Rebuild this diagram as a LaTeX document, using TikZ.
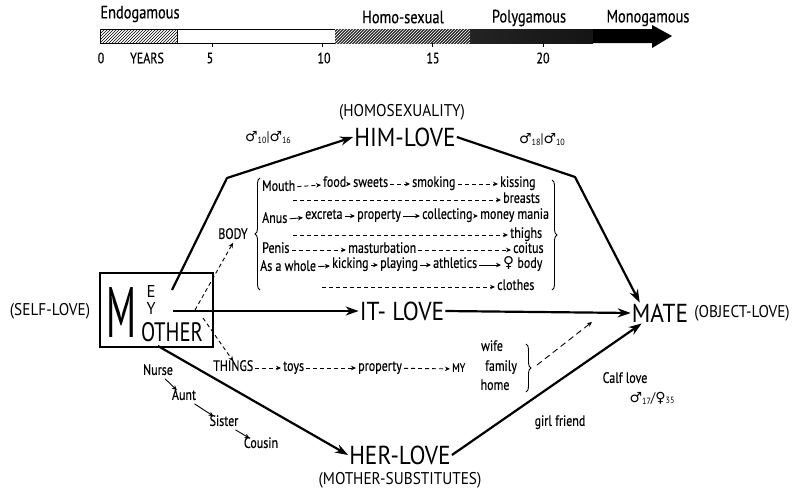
\documentclass[tikz,border=0pt]{standalone}
\usepackage{fontspec}
\usepackage{graphicx}
\setmainfont{PT Sans}[FakeStretch=0.9]
\newfontfamily\handf{PT Sans}[FakeStretch=0.8, FakeBold=0.4]
\newfontfamily\symf{DejaVu Sans}
\usetikzlibrary{arrows.meta, calc, positioning, patterns, decorations.pathreplacing}
\newcommand{\gmale}[1]{{\symf ♂}\raisebox{-2pt}{\fontsize{9}{9}\selectfont #1}}
\newcommand{\gfem}[1]{{\symf ♀}\raisebox{-1pt}{\fontsize{9}{9}\selectfont #1}}

\begin{document}
\begin{tikzpicture}[x=1pt, y=-1pt,
  big/.style={font=\fontsize{26}{26}\selectfont, inner sep=1pt},
  caps/.style={font=\fontsize{17}{17}\selectfont, inner sep=1pt},
  wd/.style={font=\handf\fontsize{15}{16}\selectfont, inner sep=2pt, text height=1.5ex, text depth=.35ex, anchor=west},
  tl/.style={font=\handf\fontsize{18}{18}\selectfont, inner sep=1pt},
  num/.style={font=\handf\fontsize{15}{15}\selectfont, inner sep=1pt},
  gl/.style={font=\fontsize{14}{14}\selectfont, inner sep=1pt},
  love/.style={line width=2.2pt, -{Stealth[length=13pt,width=9pt]}, line join=round},
  dar/.style={line width=0.9pt, dash pattern=on 4pt off 3pt, -{Stealth[length=5pt,width=4.5pt]}},
  sar/.style={line width=0.9pt, -{Stealth[length=5pt,width=4.5pt]}},
  brc/.style={decorate, decoration={brace, amplitude=5pt}, line width=0.9pt}]
\useasboundingbox (0,0) rectangle (797,488);

% age scale
\node[tl] (endo) at (140,14) {Endogamous};
\node[tl] (homo) at (403,17) {Homo-sexual};
\node[tl] (poly) at (529,18) {Polygamous};
\node[tl] (mono) at (648,18) {Monogamous};
\draw[line width=0.8pt, pattern=north east lines] (100,29) rectangle (177,43);
\draw[line width=0.8pt] (177,29) rectangle (335,43);
\fill[left color=black!80, right color=black!92] (335,29) rectangle (593,43);
\fill[pattern=north east lines, pattern color=white] (335,29) rectangle (470,43);
\fill (593,29) -- (652,29) -- (652,25) -- (672,36) -- (652,48) -- (652,43) -- (593,43) -- cycle;
\foreach \x in {212,322,432,543} \draw[line width=0.8pt] (\x,43) -- (\x,47);
\foreach \n/\x in {0/101, 5/210, 10/324, 15/433, 20/543}
  \node[num] (n\n) at (\x,58) {\n};
\node[num] (years) at (147,58) {YEARS};

% me / mother box
\node[draw, line width=1.2pt, minimum width=113pt, minimum height=74pt, inner sep=0pt] (me) at (156.5,310) {};
\node[inner sep=0pt] (bigm) at (122,312) {\resizebox{30pt}{50pt}{M}};
\node[inner sep=0pt] (e) at (151,291) {\resizebox{9pt}{12pt}{E}};
\node[inner sep=0pt] (y) at (151,308) {\resizebox{9pt}{12pt}{Y}};
\node[inner sep=0pt] (other) at (172,332) {\resizebox{62pt}{19pt}{OTHER}};
\node[caps] (self) at (50,311) {(SELF-LOVE)};

% the four loves
\node[big] (him) at (405,137) {HIM-LOVE};
\node[caps] (homos) at (402,112) {(HOMOSEXUALITY)};
\node[big] (it) at (402,311) {IT- LOVE};
\node[big] (her) at (400,455) {HER-LOVE};
\node[caps] (subst) at (400,480) {(MOTHER-SUBSTITUTES)};
\node[big] (mate) at (660,313) {MATE};
\node[caps] (obj) at (742,313) {(OBJECT-LOVE)};

\coordinate (hs) at (172,290);
\coordinate (hb) at (227,178);
\coordinate (mb) at (575,177);
\coordinate (is) at (173,311);
\coordinate (rs) at (158,346);
\draw[love] (hs) -- (hb) -- (him.west);
\draw[love] (him.east) -- (mb) -- ([xshift=9pt]mate.north west);
\draw[love] (is) -- (it.west);
\draw[love] (it.east) -- (mate.west);
\draw[love] (rs) -- (her.west);
\draw[love] (her.east) -- ([xshift=11pt]mate.south west);

\node[gl] (hima) at (268,138) {\gmale{10}|\gmale{16}};
\node[gl] (himb) at (542,140) {\gmale{18}|\gmale{10}};
\node[wd, anchor=center] (girl) at (560,423) {girl friend};
\node[wd, anchor=center] (calf) at (625,380) {Calf love};
\node[gl] (ratio) at (652,398) {\gmale{17}/\gfem{35}};

% body
\node[wd, anchor=center] (body) at (233,236) {BODY};
\coordinate (bs) at (195,310);
\draw[dar] (bs) -- (body.south);
\draw[brc] (260,290) -- (260,178);
\draw[brc] (552,180) -- (552,290);

\node[wd] (m1) at (260,188) {Mouth};
\node[wd] (m2) at (321,184) {food};
\node[wd] (m3) at (351,184) {sweets};
\node[wd] (m4) at (410,184) {smoking};
\node[wd] (m5) at (498,184) {kissing};
\coordinate (m6s) at (293,200);
\node[wd] (m6) at (501,200) {breasts};
\node[wd] (a1) at (260,220) {Anus};
\node[wd] (a2) at (303,216) {excreta};
\node[wd] (a3) at (355,216) {property};
\node[wd] (a4) at (420,216) {collecting};
\node[wd] (a5) at (478,216) {money mania};
\coordinate (a6s) at (293,235);
\node[wd] (a6) at (508,235) {thighs};
\node[wd] (p1) at (260,250) {Penis};
\node[wd] (p2) at (346,250) {masturbation};
\node[wd] (p3) at (511,250) {coitus};
\node[wd] (w1) at (258,268) {As a whole};
\node[wd] (w2) at (330,265) {kicking};
\node[wd] (w3) at (378,265) {playing};
\node[wd] (w4) at (431,265) {athletics};
\node[wd] (w5) at (501,265) {{\symf ♀} body};
\coordinate (w6s) at (322,287);
\node[wd] (w6) at (495,287) {clothes};

\foreach \a/\b in {m1/m2, m2/m3, m3/m4, m4/m5, m6s/m6, a6s/a6, p1/p2, p2/p3, w6s/w6}
  \draw[dar] (\a) -- (\b);
\foreach \a/\b in {a1/a2, a2/a3, a3/a4, a4/a5, w1/w2, w2/w3, w3/w4, w4/w5}
  \draw[sar] (\a) -- (\b);

% things
\coordinate (ts) at (203,318);
\node[wd] (t1) at (211,368) {THINGS};
\node[wd] (t2) at (281,368) {toys};
\node[wd] (t3) at (356,368) {property};
\node[wd, font=\handf\fontsize{12}{12}\selectfont] (t4) at (450,369) {MY};
\node[wd, anchor=center] (wife) at (492,348) {wife};
\node[wd, anchor=center] (family) at (501,368) {family};
\node[wd, anchor=center] (home) at (495,387) {home};
\draw[dar] (ts) -- (t1.north);
\foreach \a/\b in {t1/t2, t2/t3, t3/t4}
  \draw[dar] (\a) -- (\b);
\draw[brc] (526,344) -- (526,392);
\coordinate (tb) at (537,365);
\draw[dar, dash pattern=on 6pt off 4pt] (tb) -- (592,322);

% substitutes
\node[wd, anchor=center] (nurse) at (158,372) {Nurse};
\node[wd, anchor=center] (aunt) at (184,397) {Aunt};
\node[wd, anchor=center] (sister) at (224,423) {Sister};
\node[wd, anchor=center] (cousin) at (261,445) {Cousin};
\foreach \a/\b in {nurse/aunt, aunt/sister, sister/cousin}
  \draw[sar] (\a) -- (\b);
\end{tikzpicture}
\end{document}
